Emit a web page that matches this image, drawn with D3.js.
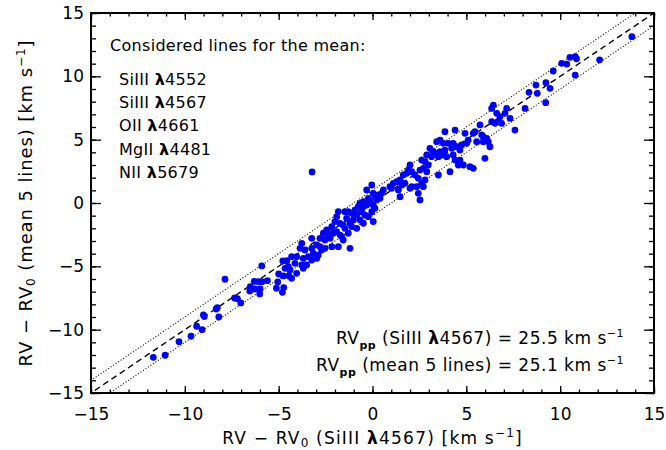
<!DOCTYPE html>
<html>
<head>
<meta charset="utf-8">
<script src="https://cdn.jsdelivr.net/npm/d3@7"></script>
<style>
  body { margin: 0; background: #fff; }
  svg { font-family: "DejaVu Sans", sans-serif; }
</style>
</head>
<body>
<svg id="chart" width="666" height="450"></svg>
<script>
// RV - RV0 from SiIII 4567 (x) vs mean of 5 lines (y), km/s
var rvSi = [
  -7.86,-5.90,-4.78,-4.56,-4.66,-5.00,-4.75,-4.45,-5.05,-5.12,-4.73,-4.80,-5.60,-5.89,-6.08,-6.30,-5.99,-6.26,-6.54,-6.51,
  -6.01,-7.35,-7.20,-7.02,-8.27,-8.33,-8.19,-9.01,-8.96,-9.37,-9.08,-9.67,-10.31,-11.05,-11.68,
  -1.82,-1.91,-2.00,-1.73,-2.17,-2.44,-2.62,-2.35,-2.09,-1.91,-1.73,-3.24,-2.80,-2.53,-2.26,-3.77,-3.24,-2.97,-2.80,-2.71,
  -2.53,-2.17,-1.82,-3.86,-3.60,-3.15,-2.89,-4.31,-4.04,-3.69,-3.42,-3.24,-2.97,-4.13,-3.77,-3.51,-4.49,-4.39,-4.04,-3.69,
  -4.31,-3.22,
  2.00,1.91,1.82,2.09,2.26,2.53,2.44,2.35,1.64,1.47,1.29,1.11,1.02,0.93,1.56,1.73,1.38,1.47,2.00,2.09,
  2.44,2.53,0.58,0.49,0.31,0.13,0.04,-0.04,-0.31,-0.22,-0.49,-0.67,-0.76,-0.49,-0.31,-0.13,0.04,0.22,0.40,-0.93,
  -1.11,-1.29,-1.47,-0.84,-0.58,-0.40,-0.22,-0.04,0.13,-1.38,-1.02,-0.67,-0.49,0.04,-1.20,-1.56,-1.47,-1.11,-0.84,-1.29,
  -1.64,-1.56,-1.20,
  6.44,6.35,7.15,6.62,6.79,6.70,6.35,6.53,6.88,7.33,7.59,7.06,5.73,5.46,5.37,5.82,4.93,4.40,3.86,5.90,
  6.08,6.17,5.55,5.90,6.26,5.99,5.10,5.02,4.75,4.49,4.30,4.66,3.60,3.42,3.77,4.04,4.22,3.86,3.60,3.33,
  3.06,3.24,2.89,3.15,3.51,3.69,3.95,4.30,4.40,4.66,4.57,4.84,5.19,5.37,4.13,3.51,2.80,2.62,2.97,2.71,
  2.89,2.80,2.62,2.71,
  10.52,10.80,10.87,10.08,10.35,9.63,10.80,12.10,8.71,9.24,9.46,8.78,8.34,9.23,8.13,13.82
];
var rvMean = [
  -6.02,-4.97,-4.58,-4.55,-5.16,-5.60,-5.76,-5.76,-6.23,-6.73,-6.68,-7.05,-6.13,-6.21,-6.21,-6.18,-6.79,-6.79,-6.95,-6.60,
  -7.18,-7.50,-7.55,-7.89,-8.26,-8.37,-9.00,-8.84,-8.97,-9.73,-10.00,-10.52,-10.95,-12.02,-12.18,
  -0.68,-1.08,-1.47,-1.61,-1.87,-2.13,-2.39,-2.53,-2.39,-2.26,-2.53,-2.79,-2.79,-2.92,-2.79,-3.18,-3.58,-3.31,-3.45,-3.71,
  -3.58,-3.45,-3.45,-3.58,-3.71,-3.97,-4.10,-4.24,-4.24,-4.37,-4.24,-4.50,-4.37,-4.76,-4.89,-4.89,-5.03,-5.29,-5.55,-5.15,
  -5.95,2.45,
  3.00,2.60,2.34,2.47,2.21,2.60,1.95,1.29,2.21,1.82,1.68,1.55,1.16,1.29,1.42,1.55,1.03,0.50,1.16,1.29,
  0.76,0.24,1.03,0.76,0.63,0.50,0.76,1.42,1.03,0.37,0.10,-0.03,-0.29,-0.29,-0.16,0.10,-0.16,0.24,0.37,-0.55,
  -0.81,-0.69,-0.69,-0.95,-0.69,-0.95,-1.08,-0.69,-0.42,-1.21,-1.34,-1.34,-1.60,-1.47,-1.60,-1.74,-2.00,-1.87,-2.00,-2.39,
  -2.66,-2.92,-3.58,
  7.73,7.47,7.47,7.08,6.81,6.42,6.42,6.29,6.29,6.68,5.76,7.08,6.16,5.63,5.50,5.37,5.50,5.76,5.63,5.23,
  5.10,4.84,4.84,4.84,4.44,3.53,4.97,4.71,4.58,4.44,4.71,4.18,4.97,4.84,4.71,4.71,4.32,4.18,4.05,3.92,
  4.32,4.05,3.79,3.66,3.66,3.79,3.66,3.79,3.39,3.39,3.00,3.00,2.87,2.74,2.47,2.21,3.26,3.39,3.00,2.74,
  2.47,1.82,1.55,1.29,
  11.50,11.55,11.39,11.03,10.97,10.42,10.10,11.30,9.31,9.50,9.05,8.66,8.74,7.92,7.47,13.13
];
var majorTicks = [-15, -10, -5, 0, 5, 10, 15];
var minorTicks = d3.range(-15, 16, 1);
var lineOffsets = [0, 1, -1];  // y = x, and the +/- band
var usedLines = ["SiIII", "SiIII", "OII", "MgII", "NII"];
var usedWaves = ["4552", "4567", "4661", "4481", "5679"];
var rvppLabels = ["(SiIII ", "(mean 5 lines) = 25.1 km s"];

var svg = d3.select("#chart"),
    margin = {top: 13, right: 12, bottom: 57, left: 91},
    width = +svg.attr("width") - margin.left - margin.right,
    height = +svg.attr("height") - margin.top - margin.bottom;

var x = d3.scaleLinear().domain([-15, 15]).range([0, width]);
var y = d3.scaleLinear().domain([-15, 15]).range([height, 0]);

var g = svg.append("g")
    .attr("transform", "translate(" + margin.left + "," + margin.top + ")");

g.append("clipPath").attr("id", "clip")
  .append("rect").attr("width", width).attr("height", height);

// reference lines
var line = d3.line()
    .x(function(d) { return x(d[0]); })
    .y(function(d) { return y(d[1]); });

g.selectAll(".ref")
    .data(lineOffsets)
    .enter().append("path")
    .attr("class", "ref")
    .attr("clip-path", "url(#clip)")
    .attr("fill", "none")
    .attr("stroke", "#000")
    .attr("stroke-width", function(d) { return d === 0 ? 1.4 : 1.1; })
    .attr("stroke-dasharray", function(d) { return d === 0 ? "6,4" : "1,2"; })
    .attr("d", function(d) { return line([[-17, -17 + d], [17, 17 + d]]); });

var pts = rvSi.map(function(v, i) { return [v, rvMean[i]]; });

g.selectAll(".dot")
    .data(pts)
    .enter().append("circle")
    .attr("class", "dot")
    .attr("cx", function(d) { return x(d[0]); })
    .attr("cy", function(d) { return y(d[1]); })
    .attr("r", 3.4)
    .attr("fill", "#0000ff");

// axes, ticks pointing in
function styleAxis(sel) {
  sel.select(".domain").remove();
  sel.selectAll("line").attr("stroke", "#000").attr("stroke-width", 1.3);
  sel.selectAll("text").attr("font-family", "DejaVu Sans, sans-serif").attr("font-size", 17).attr("fill", "#000");
}

g.append("g").attr("transform", "translate(0," + height + ")")
    .call(d3.axisBottom(x).tickValues(majorTicks).tickSize(-7).tickSizeOuter(0).tickPadding(15))
    .call(styleAxis);
g.append("g").attr("transform", "translate(0," + height + ")")
    .call(d3.axisBottom(x).tickValues(minorTicks).tickSize(-3.5).tickFormat(""))
    .call(styleAxis);
g.append("g")
    .call(d3.axisTop(x).tickValues(majorTicks).tickSize(-7).tickFormat(""))
    .call(styleAxis);
g.append("g")
    .call(d3.axisTop(x).tickValues(minorTicks).tickSize(-3.5).tickFormat(""))
    .call(styleAxis);
g.append("g")
    .call(d3.axisLeft(y).tickValues(majorTicks).tickSize(-10).tickPadding(7))
    .call(styleAxis);
g.append("g")
    .call(d3.axisLeft(y).tickValues(minorTicks).tickSize(-5).tickFormat(""))
    .call(styleAxis);
g.append("g").attr("transform", "translate(" + width + ",0)")
    .call(d3.axisRight(y).tickValues(majorTicks).tickSize(-10).tickFormat(""))
    .call(styleAxis);
g.append("g").attr("transform", "translate(" + width + ",0)")
    .call(d3.axisRight(y).tickValues(minorTicks).tickSize(-5).tickFormat(""))
    .call(styleAxis);

g.append("rect")
    .attr("width", width).attr("height", height)
    .attr("fill", "none").attr("stroke", "#000").attr("stroke-width", 2);

// axis titles
function rvTitle(t, inner) {
  t.append("tspan").text("RV  \u2212  RV");
  t.append("tspan").attr("dy", 3).attr("font-size", 12).text("0");
  t.append("tspan").attr("dy", -3).text(" (" + inner);
}
var xt = svg.append("text")
    .attr("x", margin.left + x(0)).attr("y", 444)
    .attr("text-anchor", "middle").attr("font-size", 17)
    .attr("letter-spacing", 1.2);
rvTitle(xt, "SiIII ");
xt.append("tspan").attr("font-weight", "bold").text("\u03bb");
xt.append("tspan").text("4567) [km s");
xt.append("tspan").attr("dy", -7).attr("font-size", 12).text("\u22121");
xt.append("tspan").attr("dy", 7).text("]");

var yt = svg.append("text")
    .attr("transform", "translate(32," + (margin.top + y(0)) + ") rotate(-90)")
    .attr("text-anchor", "middle").attr("font-size", 18)
    .attr("letter-spacing", 0.9);
rvTitle(yt, "mean 5 lines) [km s");
yt.append("tspan").attr("dy", -7).attr("font-size", 12).text("\u22121");
yt.append("tspan").attr("dy", 7).text("]");

// legend of lines
svg.append("text").attr("x", 110).attr("y", 51).attr("font-size", 16)
    .attr("letter-spacing", 0.3)
    .text("Considered lines for the mean:");
var lt = svg.selectAll(".lline")
    .data(usedLines)
    .enter().append("text")
    .attr("class", "lline")
    .attr("x", 119)
    .attr("y", function(d, i) { return 85 + i * 23.2; })
    .attr("font-size", 16)
    .attr("letter-spacing", 0.3);
lt.append("tspan").text(function(d) { return d + " "; });
lt.append("tspan").attr("font-weight", "bold").text("\u03bb");
lt.append("tspan").text(function(d, i) { return usedWaves[i]; });

// RVpp annotations
function rvpp(yPos) {
  var t = svg.append("text").attr("x", 624).attr("y", yPos)
      .attr("text-anchor", "end").attr("font-size", 17)
      .attr("letter-spacing", 0.5);
  t.append("tspan").text("RV");
  t.append("tspan").attr("dy", 5).attr("font-size", 11).attr("font-weight", "bold").text("pp");
  t.append("tspan").attr("dy", -5).text(" ");
  return t;
}
var t1 = rvpp(344);
t1.append("tspan").text(rvppLabels[0]);
t1.append("tspan").attr("font-weight", "bold").text("\u03bb");
t1.append("tspan").text("4567) = 25.5 km s");
t1.append("tspan").attr("dy", -7).attr("font-size", 11).text("\u22121");
var t2 = rvpp(371);
t2.append("tspan").text(rvppLabels[1]);
t2.append("tspan").attr("dy", -7).attr("font-size", 11).text("\u22121");
</script>
</body>
</html>
